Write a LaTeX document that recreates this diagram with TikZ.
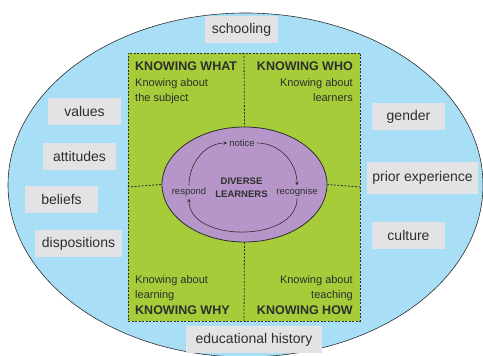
\documentclass[tikz,border=0pt]{standalone}
\usepackage{fontspec}
\setmainfont{Liberation Sans}
\usetikzlibrary{shapes.geometric}

\definecolor{skyblue}{HTML}{A9DFF6}
\definecolor{leafgreen}{HTML}{A6CC3A}
\definecolor{lilac}{HTML}{B696C8}
\definecolor{boxgray}{HTML}{E2E3E4}
\definecolor{inkgray}{HTML}{2E2E2E}

\tikzset{
  factor/.style={fill=boxgray, minimum width=73pt, minimum height=27pt, inner sep=0pt, font=\fontsize{14}{16}\selectfont},
  quadhead/.style={inner sep=0pt, font=\bfseries\fontsize{12.5}{15}\selectfont},
  quadtext/.style={inner sep=0pt, font=\fontsize{11}{15}\selectfont},
  stage/.style={inner sep=2pt, font=\fontsize{9.5}{12}\selectfont},
  divider/.style={draw=inkgray, line width=0.8pt, dash pattern=on 2pt off 1.5pt}
}

\begin{document}
\begin{tikzpicture}[x=1pt, y=1pt, text=inkgray]
  \useasboundingbox (0,0) rectangle (483,356);

  \draw[fill=skyblue, draw=inkgray, line width=0.6pt] (245.5,171) ellipse [x radius=237.5, y radius=172];

  \node[factor] (schooling) at (241.5,326) {schooling};
  \node[factor] (values) at (84.5,244.5) {values};
  \node[factor] (attitudes) at (79.5,199.5) {attitudes};
  \node[factor] (beliefs) at (61.5,156) {beliefs};
  \node[factor, minimum width=87pt] (dispositions) at (78.5,112) {dispositions};
  \node[factor] (gender) at (408.5,239.5) {gender};
  \node[factor, minimum width=111pt, minimum height=32pt] (prior) at (422.5,178) {prior experience};
  \node[factor] (culture) at (408.5,120.5) {culture};
  \node[factor, minimum width=136pt] (history) at (254,16.5) {educational history};

  \node[divider, fill=leafgreen, minimum width=232pt, minimum height=268pt, inner sep=0pt] (square) at (244,169) {};
  \node[ellipse, draw=inkgray, fill=lilac, line width=0.8pt, minimum width=165pt, minimum height=115pt] (diverse) at (244.5,171.5) {};

  \draw[divider] (square.north) -- (diverse.north);
  \draw[divider] (square.south) -- (diverse.south);
  \draw[divider] (square.west) -- (diverse.west);
  \draw[divider] (square.east) -- (diverse.east);

  \node[quadhead, anchor=west] (what) at (135,290) {KNOWING WHAT};
  \node[quadtext, anchor=north west, align=left] (whattext) at (135,278) {Knowing about\\the subject};
  \node[quadhead, anchor=east] (who) at (353,290) {KNOWING WHO};
  \node[quadtext, anchor=north east, align=right] (whotext) at (353,278) {Knowing about\\learners};
  \node[quadtext, anchor=north west, align=left] (whytext) at (135,81) {Knowing about\\learning};
  \node[quadhead, anchor=west] (why) at (135,46) {KNOWING WHY};
  \node[quadtext, anchor=north east, align=right] (howtext) at (353,81) {Knowing about\\teaching};
  \node[quadhead, anchor=east] (how) at (353,46) {KNOWING HOW};

  \node[inner sep=0pt, align=center, font=\bfseries\fontsize{9.5}{13}\selectfont] (learners) at (241.5,168) {DIVERSE\\LEARNERS};
  \node[stage] (notice) at (242,213) {notice};
  \node[stage] (respond) at (189,164) {respond};
  \node[stage] (recognise) at (297,164) {recognise};

  \draw[-stealth, inkgray, line width=0.6pt] (respond.north) to[out=90, in=180] (notice.west);
  \draw[-stealth, inkgray, line width=0.6pt] (notice.east) to[out=0, in=90] (recognise.north);
  \draw[-stealth, inkgray, line width=0.6pt] (recognise.south) to[out=-90, in=-90, looseness=1.05] (respond.south);
\end{tikzpicture}
\end{document}
